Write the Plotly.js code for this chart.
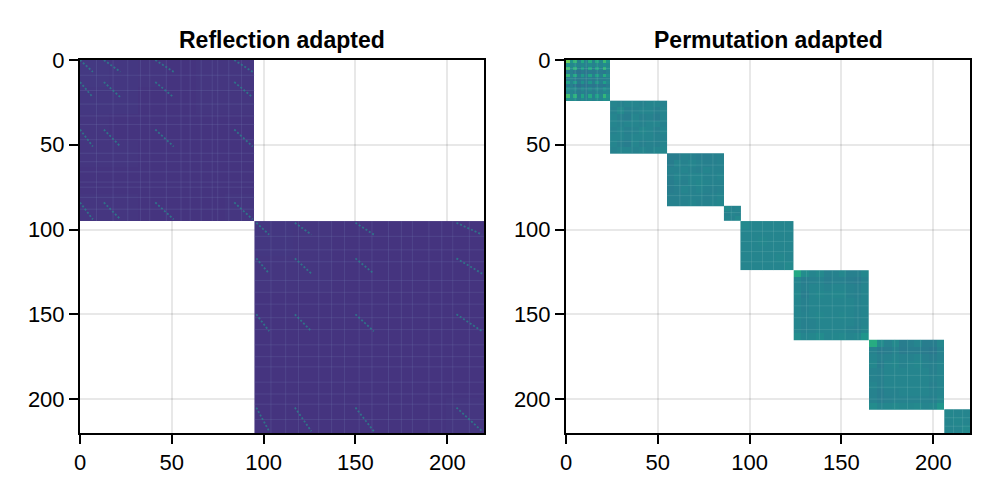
<!DOCTYPE html>
<html><head><meta charset="utf-8">
<script src="https://cdn.plot.ly/plotly-3.0.1.min.js"></script>
<style>html,body{margin:0;padding:0;background:#fff}#c{width:997px;height:498px}</style></head>
<body><div id="c"></div>
<script>
const titles = ['Reflection adapted', 'Permutation adapted'];
const tickValues = [0, 50, 100, 150, 200];
const axisMax = 220;

const reflectionEdges = [[0, 95], [95, 220]];
const permutationEdges = [[0, 24], [24, 55], [55, 86], [86, 95], [95, 124], [124, 165], [165, 206], [206, 220]];

const reflectionA = [
 [.165,.160,.155,.150,.155,.155],
 [.160,.160,.150,.150,.155,.155],
 [.155,.150,.150,.150,.150,.150],
 [.155,.155,.150,.150,.150,.150],
 [.150,.150,.150,.150,.150,.150],
 [.155,.155,.150,.150,.150,.155]
];
const reflectionB = [
 [.160,.155,.150,.150,.150,.150],
 [.155,.155,.150,.150,.150,.150],
 [.150,.150,.150,.150,.150,.150],
 [.150,.150,.150,.150,.150,.150],
 [.150,.150,.150,.150,.150,.150],
 [.150,.150,.150,.150,.150,.155]
];

const perm1 = [
 [.78,.52,.66,.44,.60,.44,.62,.44,.60,.46,.68,.52],
 [.52,.46,.47,.44,.46,.44,.47,.44,.46,.45,.48,.46],
 [.70,.47,.64,.42,.56,.42,.60,.42,.58,.44,.66,.48],
 [.42,.43,.40,.38,.41,.39,.41,.40,.41,.41,.40,.43],
 [.66,.46,.60,.42,.54,.43,.58,.43,.56,.44,.62,.48],
 [.43,.44,.42,.40,.43,.40,.43,.40,.43,.42,.42,.44],
 [.58,.45,.54,.41,.50,.42,.52,.42,.52,.43,.56,.46],
 [.41,.43,.39,.37,.40,.38,.40,.39,.40,.40,.39,.42],
 [.50,.45,.47,.41,.47,.42,.47,.42,.47,.43,.50,.45],
 [.45,.45,.43,.41,.43,.42,.43,.42,.43,.43,.45,.45],
 [.70,.48,.64,.42,.58,.43,.60,.43,.56,.46,.66,.50],
 [.50,.47,.48,.43,.47,.44,.47,.44,.47,.45,.50,.48]
];
const perm2 = [
 [.45,.44,.45,.45,.44,.45,.45,.44],
 [.44,.47,.43,.44,.45,.45,.43,.45],
 [.45,.43,.42,.45,.43,.44,.42,.45],
 [.45,.44,.45,.45,.44,.45,.45,.44],
 [.44,.45,.43,.44,.46,.45,.43,.45],
 [.45,.45,.44,.45,.45,.45,.44,.44],
 [.45,.43,.42,.45,.43,.44,.43,.45],
 [.44,.45,.45,.44,.45,.44,.45,.46]
];
const perm3 = [
 [.42,.42,.44,.43,.42,.42,.43,.44],
 [.42,.45,.44,.45,.44,.43,.43,.44],
 [.44,.44,.45,.44,.43,.45,.44,.44],
 [.43,.45,.44,.45,.45,.44,.44,.45],
 [.42,.44,.43,.45,.46,.45,.44,.44],
 [.42,.43,.45,.44,.45,.44,.43,.44],
 [.43,.43,.44,.44,.44,.43,.44,.45],
 [.44,.44,.44,.45,.44,.44,.45,.46]
];
const perm4 = [[.48,.44,.45],[.44,.45,.44],[.45,.44,.47]];
const perm5 = [
 [.47,.45,.45,.45,.45,.45],
 [.45,.45,.45,.45,.45,.45],
 [.45,.45,.46,.45,.45,.45],
 [.45,.45,.45,.45,.45,.45],
 [.45,.45,.45,.45,.46,.45],
 [.45,.45,.45,.45,.45,.47]
];
const perm6 = [
 [.60,.48,.45,.47,.43,.44,.46,.43,.43,.46],
 [.45,.42,.43,.44,.42,.43,.43,.42,.41,.44],
 [.45,.43,.45,.45,.44,.45,.45,.44,.43,.45],
 [.46,.42,.45,.46,.45,.46,.46,.44,.43,.45],
 [.45,.43,.45,.45,.45,.45,.45,.45,.44,.45],
 [.45,.43,.45,.45,.45,.45,.45,.45,.44,.45],
 [.45,.44,.45,.46,.45,.45,.46,.45,.44,.45],
 [.45,.43,.44,.45,.45,.45,.45,.45,.44,.45],
 [.45,.43,.44,.45,.45,.45,.45,.44,.43,.46],
 [.48,.45,.46,.48,.45,.46,.47,.45,.46,.52]
];
const perm7 = [
 [.62,.48,.44,.47,.42,.43,.45,.42,.42,.46],
 [.44,.41,.42,.44,.41,.42,.42,.41,.40,.44],
 [.45,.43,.44,.45,.44,.44,.45,.43,.42,.44],
 [.46,.42,.45,.46,.44,.45,.46,.44,.43,.45],
 [.44,.43,.45,.45,.45,.45,.45,.45,.43,.45],
 [.44,.43,.45,.45,.45,.45,.45,.45,.44,.45],
 [.45,.43,.45,.45,.45,.45,.45,.45,.43,.45],
 [.44,.42,.44,.44,.45,.45,.45,.45,.44,.45],
 [.44,.42,.43,.44,.44,.44,.44,.44,.43,.46],
 [.48,.45,.46,.47,.46,.46,.47,.45,.46,.52]
];
const perm8 = [[.46,.45,.45],[.45,.46,.45],[.45,.45,.47]];

const reflectionTiles = [reflectionA, reflectionB];
const permutationTiles = [perm1, perm2, perm3, perm4, perm5, perm6, perm7, perm8];

// Diagonal streaks seen in the left panel: start and end, in matrix cells
const streakStartX = [0,0,0,0, 13,13,13,13, 41,41,41,41, 84,84,84,84, 96,96,96,96, 117,117,117,117, 150,150,150,150, 205,205,205,205];
const streakStartY = [0,13,41,84, 0,13,41,84, 0,13,41,84, 0,13,41,84, 96,117,150,205, 96,117,150,205, 96,117,150,205, 96,117,150,205];
const streakEndX   = [7,7,7,7, 22,22,22,22, 51,51,51,51, 94,94,94,94, 103,103,103,103, 126,126,126,126, 160,160,160,160, 219,219,219,219];
const streakEndY   = [7,22,51,94, 7,22,51,94, 7,22,51,94, 7,22,51,94, 103,126,160,219, 103,126,160,219, 103,126,160,219, 103,126,160,219];

// Paler rows and columns of the matrices, in matrix cells
const paleLeftA = [9,18,26,33,38,47,55,60,66,72,75,81,88];
const paleLeftB = [104,112,119,130,137,144,152,159,168,175,181,190,197,203,212];
const palePerm = [[5,11,17],[30,36,42,48],[62,68,74,80],[90],[101,107,113,119],[131,138,145,152,159],[172,179,186,193,200],[211,216]];

function blockTraces(edges, tiles, xa, ya) {
  return edges.map((e, i) => {
    const n = tiles[i].length, d = (e[1] - e[0]) / n;
    return {
      type: 'heatmap', z: tiles[i], x0: e[0] + d / 2, dx: d, y0: e[0] + d / 2, dy: d,
      xaxis: xa, yaxis: ya, colorscale: 'Viridis', zmin: 0, zmax: 1,
      showscale: false, hoverinfo: 'skip'
    };
  });
}
function paleTrace(edge, cells, xa, ya, color) {
  const x = [], y = [];
  cells.forEach(c => {
    x.push(c, c, null, edge[0], edge[1], null);
    y.push(edge[0], edge[1], null, c, c, null);
  });
  return {type: 'scatter', mode: 'lines', x, y, xaxis: xa, yaxis: ya, hoverinfo: 'skip',
          line: {color, width: 1}};
}
function streakTrace() {
  const x = [], y = [];
  streakStartX.forEach((v, i) => {
    x.push(v, streakEndX[i], null);
    y.push(streakStartY[i], streakEndY[i], null);
  });
  return {type: 'scatter', mode: 'lines', x, y, xaxis: 'x', yaxis: 'y', hoverinfo: 'skip',
          line: {color: 'rgba(40,135,140,0.75)', width: 1.8, dash: '2px,2px'}};
}

const axisStyle = {
  range: [0, axisMax], tickvals: tickValues, ticktext: tickValues.map(String),
  ticks: 'outside', ticklen: 9, tickwidth: 2, tickcolor: '#000',
  showline: true, linecolor: '#000', linewidth: 2, mirror: true,
  showgrid: true, gridcolor: 'rgba(0,0,0,0.09)', gridwidth: 2, zeroline: false,
  tickfont: {family: 'Liberation Sans', size: 22, color: '#000'}
};
const W = 997, H = 498;
const xd1 = [80 / W, 484 / W], xd2 = [566 / W, 970 / W], yd = [1 - 433 / H, 1 - 60 / H];

const layout = {
  width: W, height: H, margin: {l: 0, r: 0, t: 0, b: 0},
  paper_bgcolor: '#fff', plot_bgcolor: '#fff', showlegend: false,
  xaxis: Object.assign({}, axisStyle, {domain: xd1, anchor: 'y'}),
  yaxis: Object.assign({}, axisStyle, {domain: yd, anchor: 'x', range: [axisMax, 0]}),
  xaxis2: Object.assign({}, axisStyle, {domain: xd2, anchor: 'y2'}),
  yaxis2: Object.assign({}, axisStyle, {domain: yd, anchor: 'x2', range: [axisMax, 0]}),
  annotations: titles.map((t, i) => ({
    text: '<b>' + t + '</b>', xref: 'paper', yref: 'paper',
    x: i ? (xd2[0] + xd2[1]) / 2 : (xd1[0] + xd1[1]) / 2, y: 1 - 40 / H,
    xanchor: 'center', yanchor: 'middle', showarrow: false,
    font: {family: 'Liberation Sans', size: 23, color: '#000'}
  }))
};
const paleLeft = 'rgba(120,130,180,0.22)', paleRight = 'rgba(130,190,190,0.22)';
const data = blockTraces(reflectionEdges, reflectionTiles, 'x', 'y')
  .concat([paleTrace(reflectionEdges[0], paleLeftA, 'x', 'y', paleLeft),
           paleTrace(reflectionEdges[1], paleLeftB, 'x', 'y', paleLeft), streakTrace()])
  .concat(blockTraces(permutationEdges, permutationTiles, 'x2', 'y2'))
  .concat(palePerm.map((c, i) => paleTrace(permutationEdges[i], c, 'x2', 'y2', paleRight)));
Plotly.newPlot('c', data, layout, {displayModeBar: false, staticPlot: true});
</script></body></html>
